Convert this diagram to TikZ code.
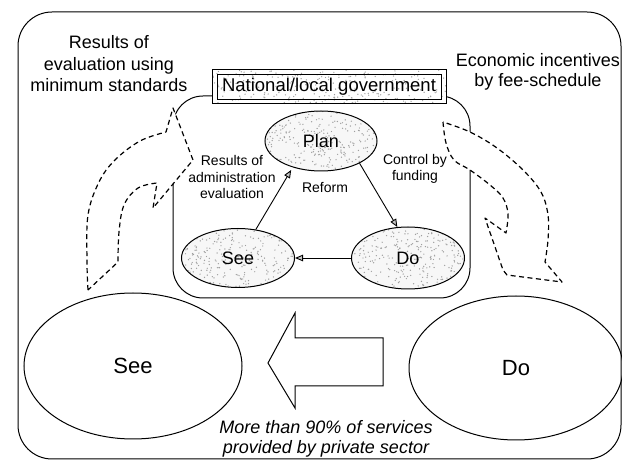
\documentclass[tikz,border=0pt]{standalone}
\usepackage{fontspec}
\setmainfont{Liberation Sans}
\usetikzlibrary{shapes.geometric,calc,arrows.meta}
\begin{document}
\pgfmathsetseed{42}
\begin{tikzpicture}[x=1pt,y=-1pt,
  frameline/.style={draw, line width=1pt},
  stipple/.style n args={3}{path picture={
    \foreach \k in {1,...,#3}{
      \fill[gray!75] ($(path picture bounding box.center)+(rand*#1,rand*#2)$) circle (0.7pt);
    }}},
  cyc/.style={ellipse, draw, line width=1pt, fill=gray!6, inner sep=0pt,
    font=\fontsize{18}{20}\selectfont},
  bigell/.style={ellipse, draw, line width=1pt, inner sep=0pt,
    font=\fontsize{22}{24}\selectfont},
  flowarrow/.style={-{Triangle[length=8pt,width=6.5pt,fill=gray!45]}, line width=0.9pt},
  dasharrow/.style={draw, dashed, dash pattern=on 5pt off 3.5pt, line width=1.2pt,
    fill=white, line join=round},
  caption/.style={align=center, inner sep=0pt, font=\fontsize{18}{21.5}\selectfont},
  note/.style={align=center, inner sep=0pt, font=\fontsize{14}{16.5}\selectfont}
]
\path[use as bounding box, clip] (0,0) rectangle (622,462);

% outer frame and government frame
\draw[frameline, rounded corners=34pt] (18,12) rectangle (621,459);
\draw[frameline, rounded corners=30pt] (173,96) rectangle (470,298);

% broad dashed feedback arrows
\draw[dasharrow] plot[smooth, tension=0.6] coordinates {(88,290) (87,262) (88,215) (99,182) (115,160) (140,141) (166,132)}
  -- (173,108) -- (193,160) -- (153,208) -- (157,183)
  -- plot[smooth, tension=0.6] coordinates {(157,183) (138,188) (124,205) (119,232) (118,262)} -- cycle;
\draw[dasharrow] plot[smooth, tension=0.6] coordinates {(443,122) (446,143) (454,160) (470,170) (490,185) (503,198) (508,214) (506,233)}
  -- (485,218) -- (503,270) -- (507,275) -- (562,282) -- (545,262)
  -- plot[smooth, tension=0.6] coordinates {(545,262) (548,240) (548,215) (541,192) (523,170) (497,148) (470,132) (443,122)} -- cycle;

% government label with double border
\node[draw, line width=1pt, fill=white, stipple={117}{17}{260},
  minimum width=234pt, minimum height=34pt, inner sep=0pt,
  font=\fontsize{18.5}{20}\selectfont] (gov) at (329,87) {National/local government};
\draw[line width=1pt] ([shift={(5.5,5.5)}]gov.north west) rectangle ([shift={(-5.5,-5)}]gov.south east);

% Plan-Do-See cycle
\node[cyc, minimum width=112pt, minimum height=60pt, stipple={56}{30}{300}] (plan) at (321,141) {Plan};
\node[cyc, minimum width=113pt, minimum height=59pt, stipple={57}{30}{300}] (see) at (238,258) {See};
\node[cyc, minimum width=113pt, minimum height=62pt, stipple={57}{31}{300}] (do) at (408,258) {Do};

\draw[flowarrow] (plan.-30) -- (do.109);
\draw[flowarrow] (do.west) -- (see.east);
\draw[flowarrow, shorten >=3pt] (see.58) -- (plan.-137);

\node[note] (admin) at (232,177) {Results of\\administration\\evaluation};
\node[note] (reform) at (325,188) {Reform};
\node[note] (control) at (415,169) {Control by\\funding};

% private sector level
\node[bigell, minimum width=218pt, minimum height=146pt] (seeB) at (133,366) {See};
\node[bigell, minimum width=214pt, minimum height=144pt] (doB) at (516,368) {Do};
\draw[line width=1pt, fill=white, line join=miter]
  (383,338) -- (295,338) -- (295,313) -- (268,363) -- (295,408) -- (295,386) -- (383,386) -- cycle;

\node[caption] (evalmin) at (109,64) {Results of\\evaluation using\\minimum standards};
\node[caption, font=\fontsize{18}{20}\selectfont] (econ) at (538,72) {Economic incentives\\by fee-schedule};
\node[caption, font=\itshape\fontsize{18}{19.5}\selectfont] (private) at (326,439)
  {More than 90\% of services\\provided by private sector};
\end{tikzpicture}
\end{document}
